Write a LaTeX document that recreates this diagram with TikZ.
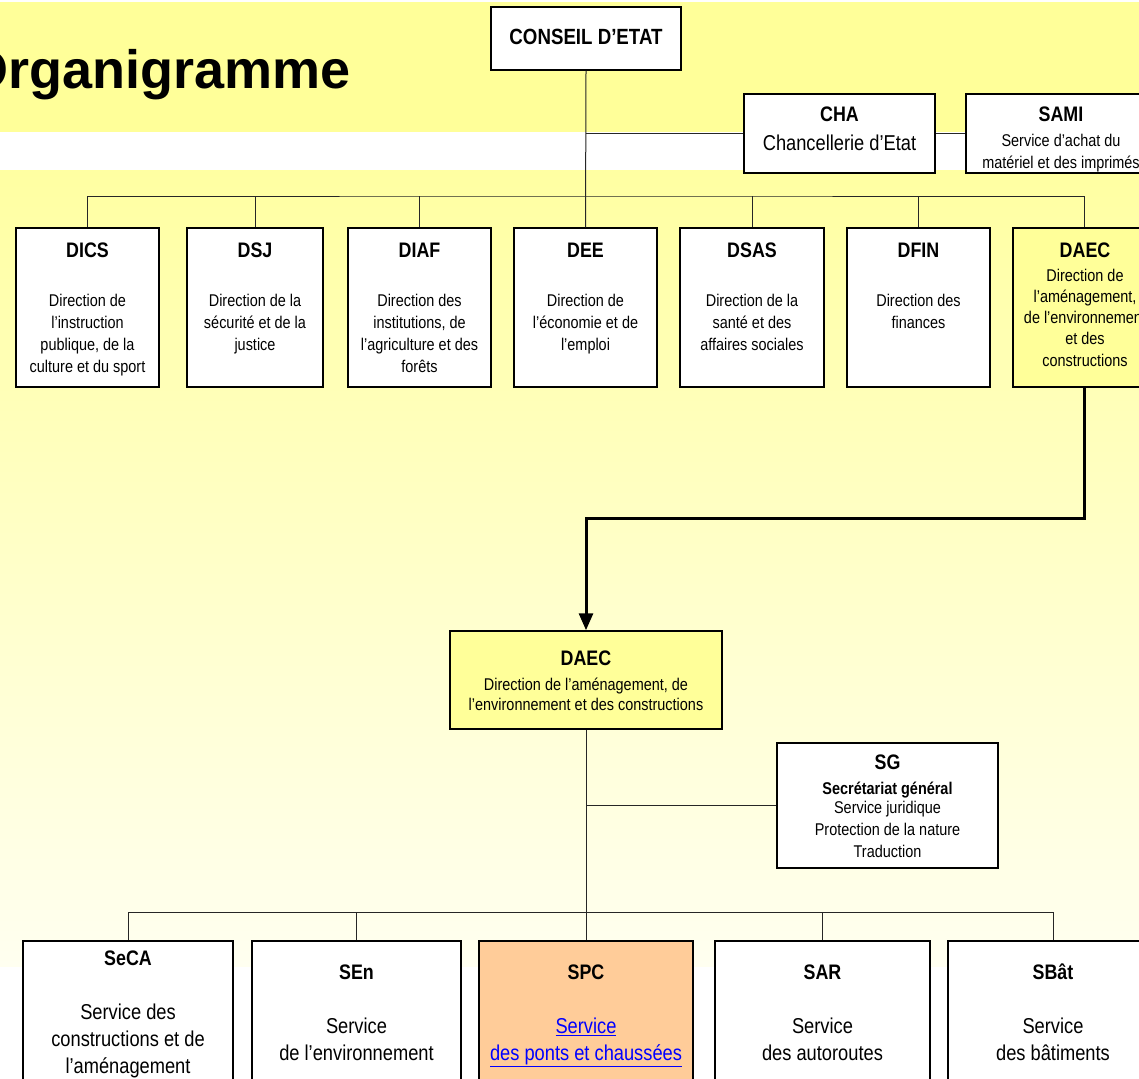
\documentclass[tikz,border=0pt]{standalone}
\usepackage{fontspec}
\setmainfont{Liberation Sans}
\newfontfamily\nar[FakeStretch=0.85]{Liberation Sans}
\usetikzlibrary{arrows.meta}
\definecolor{ybg}{RGB}{255,255,153}
\definecolor{ytop}{RGB}{255,255,162}
\definecolor{ybot}{RGB}{255,255,240}
\definecolor{boxy}{RGB}{255,255,153}
\definecolor{boxo}{RGB}{255,204,153}
\definecolor{linkb}{RGB}{0,0,255}
\newcommand\ftT{\nar\bfseries\fontsize{21}{24}\selectfont}
\newcommand\ftD{\nar\fontsize{17}{22}\selectfont}
\newcommand\ftB{\nar\fontsize{21.5}{26.5}\selectfont}
\begin{document}
\begin{tikzpicture}[x=1pt,y=-1pt,
  box/.style={draw=black, line width=1.5pt, fill=white, inner sep=0pt},
  txt/.style={inner sep=0pt, align=center, anchor=base},
  conn/.style={draw=black!85, line width=1pt},
  heavy/.style={draw=black, line width=3pt, -{Triangle[length=17pt,width=14pt]}}
]
\path[use as bounding box] (0,0) rectangle (1139,1078);
\clip (0,0) rectangle (1139,1078);
\fill[white] (0,0) rectangle (1139,1078);
\fill[ybg] (0,2) rectangle (1139,132);
\shade[top color=ytop, bottom color=ybot] (0,171) rectangle (1139,966);

% title
\node[anchor=base east, inner sep=0pt, font=\bfseries\fontsize{54}{60}\selectfont] (title) at (351,89) {Organigramme};

% top level
\node[box, minimum width=190pt, minimum height=63pt] (ce) at (586,38.5) {};
\node[txt, font=\nar\bfseries\fontsize{22}{24}\selectfont] (ce-t) at (586,45) {CONSEIL D’ETAT};

\node[box, minimum width=191pt, minimum height=79pt] (cha) at (839.5,133.5) {};
\node[txt, font=\ftT] (cha-t) at (839.5,121.5) {CHA};
\node[txt, font=\nar\fontsize{21.5}{24}\selectfont] (cha-d) at (839.5,150.5) {Chancellerie d’Etat};

\node[box, minimum width=190pt, minimum height=79pt] (sami) at (1061,133.5) {};
\node[txt, font=\ftT] (sami-t) at (1061,121.5) {SAMI};
\node[txt, font=\ftD] (sami-d) at (1061,168) {Service d’achat du\\matériel et des imprimés};

% directions
\foreach \n/\x/\w in {dics/87.5/143, dsj/255/136, diaf/419.5/143, dee/585.5/143, dsas/752/144, dfin/918.5/143}
  \node[box, minimum width=\w pt, minimum height=159pt] (\n) at (\x,307.5) {};
\node[box, fill=boxy, minimum width=143pt, minimum height=159pt] (daec) at (1084.5,307.5) {};

\node[txt, font=\ftT] (dics-t) at (87.5,257.5) {DICS};
\node[txt, font=\ftD] (dics-d) at (87.5,372) {Direction de\\l’instruction\\publique, de la\\culture et du sport};
\node[txt, font=\ftT] (dsj-t) at (255,257.5) {DSJ};
\node[txt, font=\ftD] (dsj-d) at (255,350) {Direction de la\\sécurité et de la\\justice};
\node[txt, font=\ftT] (diaf-t) at (419.5,257.5) {DIAF};
\node[txt, font=\ftD] (diaf-d) at (419.5,372) {Direction des\\institutions, de\\l’agriculture et des\\forêts};
\node[txt, font=\ftT] (dee-t) at (585.5,257.5) {DEE};
\node[txt, font=\ftD] (dee-d) at (585.5,350) {Direction de\\l’économie et de\\l’emploi};
\node[txt, font=\ftT] (dsas-t) at (752,257.5) {DSAS};
\node[txt, font=\ftD] (dsas-d) at (752,350) {Direction de la\\santé et des\\affaires sociales};
\node[txt, font=\ftT] (dfin-t) at (918.5,257.5) {DFIN};
\node[txt, font=\ftD] (dfin-d) at (918.5,328) {Direction des\\finances};
\node[txt, font=\ftT] (daec-t) at (1085,257.5) {DAEC};
\node[txt, font=\nar\fontsize{17}{21.25}\selectfont] (daec-d) at (1085,366) {Direction de\\l’aménagement,\\de l’environnement\\et des\\constructions};

% DAEC detail
\node[box, fill=boxy, minimum width=272pt, minimum height=98pt] (daec2) at (586,680) {};
\node[txt, font=\ftT] (daec2-t) at (586,665.5) {DAEC};
\node[txt, font=\nar\fontsize{17}{20}\selectfont] (daec2-d) at (586,710) {Direction de l’aménagement, de\\l’environnement et des constructions};

\node[box, minimum width=221pt, minimum height=125pt] (sg) at (887.5,805.5) {};
\node[txt, font=\ftT] (sg-t) at (887.5,769.5) {SG};
\node[txt, font=\nar\bfseries\fontsize{17}{22}\selectfont] (sg-s) at (887.5,794) {Secrétariat général};
\node[txt, font=\ftD] (sg-d) at (887.5,857) {Service juridique\\Protection de la nature\\Traduction};

% services
\foreach \n/\x/\w in {seca/128/210, sen/356.5/209, sar/822.5/215, sbat/1053/210}
  \node[box, minimum width=\w pt, minimum height=170pt] (\n) at (\x,1026) {};
\node[box, fill=boxo, minimum width=214pt, minimum height=170pt] (spc) at (586,1026) {};

\node[txt, font=\ftT] (seca-t) at (128,965.5) {SeCA};
\node[txt, font=\nar\fontsize{21.5}{27}\selectfont] (seca-d) at (128,1073.5) {Service des\\constructions et de\\l’aménagement};
\node[txt, font=\ftT] (sen-t) at (356.5,979.5) {SEn};
\node[txt, font=\ftB] (sen-d) at (356.5,1060) {Service\\de l’environnement};
\node[txt, font=\ftT] (spc-t) at (586,979.5) {SPC};
\node[txt, font=\ftB, text=linkb] (spc-d) at (586,1060) {\underline{Service}\\\underline{des ponts et chaussées}};
\node[txt, font=\ftT] (sar-t) at (822.5,979.5) {SAR};
\node[txt, font=\ftB] (sar-d) at (822.5,1060) {Service\\des autoroutes};
\node[txt, font=\ftT] (sbat-t) at (1053,979.5) {SBât};
\node[txt, font=\ftB] (sbat-d) at (1053,1060) {Service\\des bâtiments};

% connectors
\coordinate (busT) at (586,196);
\coordinate (chaJ) at (ce.south |- cha.west);
\draw[conn] (ce.south) -- (dee.north);
\draw[conn] (dics.north) |- (busT) -| (daec.north);
\foreach \n in {dsj,diaf,dsas,dfin}
  \draw[conn] (\n.north) -- (\n.north |- busT);
\draw[conn] (chaJ) -- (cha.west);
\draw[conn] (cha.east) -- (sami.west);

\coordinate (bend) at (586,518);
\draw[heavy] (daec.south) |- (bend) -- (daec2.north);

\coordinate (busB) at (586,912);
\coordinate (sgJ) at (sg.west -| daec2.south);
\draw[conn] (daec2.south) -- (spc.north);
\draw[conn] (sgJ) -- (sg.west);
\draw[conn] (seca.north) |- (busB) -| (sbat.north);
\foreach \n in {sen,sar}
  \draw[conn] (\n.north) -- (\n.north |- busB);
\end{tikzpicture}
\end{document}
